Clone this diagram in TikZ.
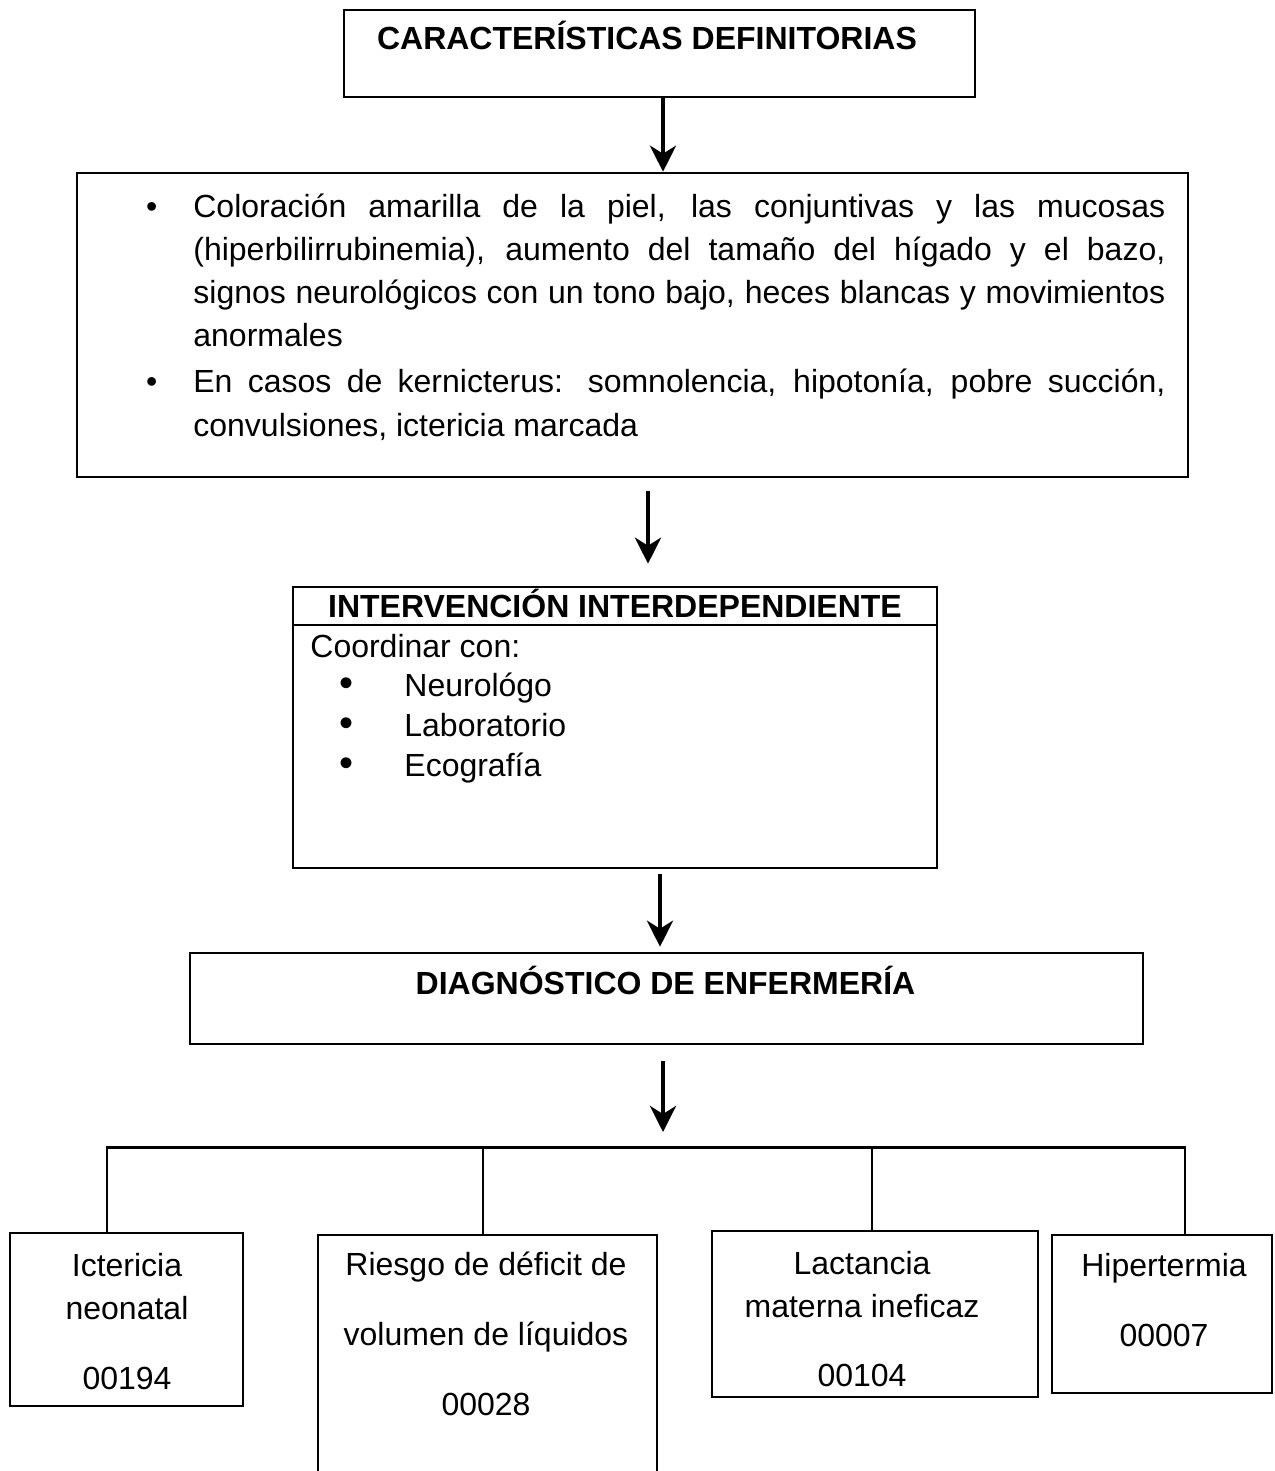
\documentclass[tikz,border=0pt]{standalone}
\usepackage{fontspec}
\setmainfont{Liberation Sans}
\usetikzlibrary{arrows.meta,calc}
\newcommand{\bigdot}{\scalebox{1.25}{\textbullet}}
\begin{document}
\begin{tikzpicture}[x=0.5pt,y=-0.5pt,
  box/.style={draw, line width=1.3pt, rectangle, inner sep=0pt},
  arr/.style={line width=2.2pt, -{Stealth[length=13pt,width=13pt,inset=4pt]}},
  bar/.style={line width=1.5pt},
  link/.style={line width=0.9pt},
  txt/.style={font=\fontsize{16}{21.5}\selectfont, inner sep=0pt},
  hd/.style={font=\bfseries\fontsize{16}{21.5}\selectfont, inner sep=0pt}]
\useasboundingbox[fill=white] (0,0) rectangle (1274,1471);

% main boxes
\node[box, minimum width=315.5pt, minimum height=43.5pt] (box1) at (659.5,53.5) {};
\node[box, minimum width=555.5pt, minimum height=152pt] (box2) at (632.5,325) {};
\node[box, minimum width=322pt, minimum height=140.5pt] (box3) at (615,727.5) {};
\node[box, minimum width=476.5pt, minimum height=45.5pt] (box4) at (666.5,998.5) {};

% diagnosis boxes
\node[box, minimum width=116.5pt, minimum height=86.5pt] (box5a) at (126.5,1319.5) {};
\node[box, minimum width=169.5pt, minimum height=132.5pt] (box5b) at (487.5,1367.5) {};
\node[box, minimum width=163pt, minimum height=83pt] (box5c) at (875,1314) {};
\node[box, minimum width=110pt, minimum height=79pt] (box5d) at (1162,1314) {};

% titles
\node[hd, anchor=base] (t1) at (647,49.5) {CARACTERÍSTICAS DEFINITORIAS};
\node[hd, anchor=base] (t3) at (615,617.5) {INTERVENCIÓN INTERDEPENDIENTE};
\node[hd, anchor=base] (t4) at (665.5,994.5) {DIAGNÓSTICO DE ENFERMERÍA};

% header rule of the intervention box
\draw[line width=1pt] (box3.west |- 0,625) coordinate (h3a) -- (box3.east |- h3a);

% defining characteristics
\node[txt, anchor=base west, text width=486pt, align=justify] (c2) at (193,218) {%
\hyphenpenalty=10000\parskip=1.5pt
\noindent\leavevmode\llap{\textbullet\hskip 18pt}Coloración amarilla de la piel, las conjuntivas y las mucosas\linebreak
(hiperbilirrubinemia), aumento del tamaño del hígado y el bazo,\linebreak
signos neurológicos con un tono bajo, heces blancas y movimientos\linebreak
anormales\par
\noindent\leavevmode\llap{\textbullet\hskip 18pt}En casos de kernicterus: somnolencia, hipotonía, pobre succión,\linebreak
convulsiones, ictericia marcada};

% interdependent intervention
\node[txt, anchor=base west] (c3) at (310,657) {Coordinar con:};
\node[anchor=base west, inner sep=0pt, align=left, font=\fontsize{16}{20}\selectfont] (l3) at (404,776) {%
\llap{\bigdot\hskip 25.5pt}Neurológo\\
\llap{\bigdot\hskip 25.5pt}Laboratorio\\
\llap{\bigdot\hskip 25.5pt}Ecografía};

% diagnoses
\node[txt, anchor=base, align=center] (d1) at (127,1389) {Ictericia\\ neonatal\\[13.5pt] 00194};
\node[txt, anchor=base, align=center] (d2) at (486,1415) {Riesgo de déficit de\\[13.5pt] volumen de líquidos\\[13.5pt] 00028};
\node[txt, anchor=base, align=center] (d3) at (862,1386) {Lactancia\\ materna ineficaz\\[13pt] 00104};
\node[txt, anchor=base, align=center] (d4) at (1164,1346) {Hipertermia\\[13.5pt] 00007};

% flow arrows
\draw[arr] ($(box1.south)+(3.5,0)$) -- ($(box2.north)+(30.5,0)$);
\draw[arr] ($(box2.south)+(15.5,13)$) -- ($(box3.north)+(33,-22)$);
\draw[arr] ($(box3.south)+(45,5)$) -- ($(box4.north)+(-6.5,-5)$);

% branching bar
\coordinate (barL) at (106,1147);
\coordinate (barR) at (1186,1147);
\coordinate (j1) at (107,1147);
\coordinate (j2) at (483,1147);
\coordinate (j3) at (872,1147);
\coordinate (j4) at (1185,1147);
\draw[arr] ($(box4.south)+(-3.5,16)$) -- ($(barL -| box4.south)+(-3.5,-15)$);
\draw[bar] (barL) -- (barR);
\draw[link] (j1) -- (j1 |- box5a.north);
\draw[link] (j2) -- (j2 |- box5b.north);
\draw[link] (j3) -- (j3 |- box5c.north);
\draw[link] (j4) -- (j4 |- box5d.north);
\end{tikzpicture}
\end{document}
